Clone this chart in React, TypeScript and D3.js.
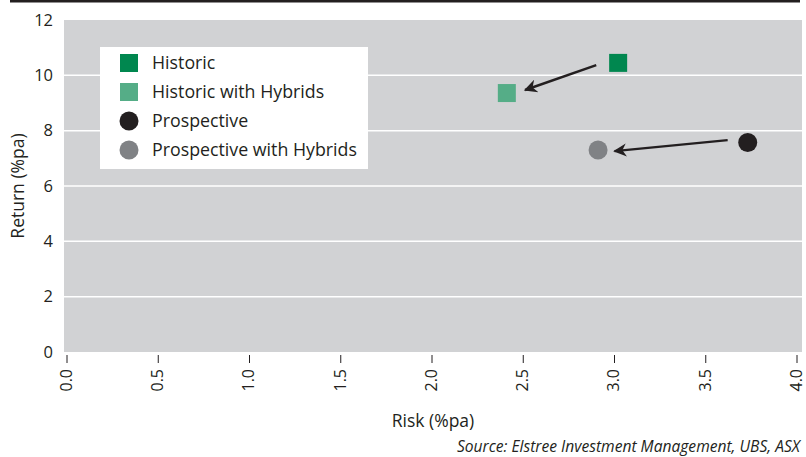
import React from 'react';
import * as d3 from 'd3';

// Series: [risk, return]
const seriesNames = ['Historic', 'Historic with Hybrids', 'Prospective', 'Prospective with Hybrids'];
const seriesShapes = ['square', 'square', 'circle', 'circle'];
const seriesColors = ['#00874f', '#55ad87', '#231f20', '#808285'];
const riskValues = [3.02, 2.41, 3.73, 2.91];
const returnValues = [10.45, 9.36, 7.57, 7.3];

// arrows: from -> to, in data units
const arrowFrom = [[2.9, 10.37], [3.62, 7.66]];
const arrowTo = [[2.51, 9.47], [3.0, 7.26]];

const xTicks = [0, 0.5, 1.0, 1.5, 2.0, 2.5, 3.0, 3.5, 4.0];
const yTicks = [0, 2, 4, 6, 8, 10, 12];

const W = 806;
const H = 457;
const font = '"Open Sans", "Noto Sans", sans-serif';
const ink = '#231f20';

const App: React.FC = () => {
    const x = d3.scaleLinear().domain([0, 4]).range([67, 797]);
    const y = d3.scaleLinear().domain([0, 12]).range([352, 20]);

    const plotLeft = 64;
    const plotRight = 802;

    return (
        <svg width={W} height={H} style={{ position: 'absolute', left: 0, top: 0, background: '#fff' }}>
            <defs>
                <marker id="arrowhead" viewBox="0 0 10 10" refX="9" refY="5" markerWidth="7.5" markerHeight="5.5"
                    markerUnits="strokeWidth" orient="auto">
                    <path d="M0,0 L10,5 L0,10 L3,5 Z" fill={ink} />
                </marker>
            </defs>

            {/* top rule */}
            <line x1={10} x2={800} y1={1.2} y2={1.2} stroke={ink} strokeWidth={2.4} />

            {/* plot background */}
            <rect x={plotLeft} y={y(12)} width={plotRight - plotLeft} height={y(0) - y(12)} fill="#d1d2d4" />

            {/* gridlines */}
            {yTicks.filter(t => t > 0 && t < 12).map(t => (
                <line key={t} x1={plotLeft} x2={plotRight} y1={y(t)} y2={y(t)} stroke="#fff" strokeWidth={1.5} />
            ))}

            {/* y tick labels */}
            {yTicks.map(t => (
                <text key={t} x={53} y={y(t)} dy="0.35em" textAnchor="end" fontFamily={font} fontSize={16.5} fill={ink}>
                    {t}
                </text>
            ))}

            {/* x ticks + labels */}
            {xTicks.map(t => (
                <g key={t} transform={`translate(${x(t)},0)`}>
                    <line x1={0} x2={0} y1={355} y2={363} stroke={ink} strokeWidth={1} />
                    <text transform="translate(0,369) rotate(-90)" dy="0.3em" textAnchor="end"
                        fontFamily={font} fontSize={16} fill={ink}>
                        {d3.format('.1f')(t)}
                    </text>
                </g>
            ))}

            {/* axis titles */}
            <text transform={`translate(18,${(y(0) + y(12)) / 2}) rotate(-90)`} dy="0.35em" textAnchor="middle"
                fontFamily={font} fontSize={17.5} fill={ink}>
                Return (%pa)
            </text>
            <text x={433} y={421} dy="0.35em" textAnchor="middle" fontFamily={font} fontSize={17.5} fill={ink}>
                Risk (%pa)
            </text>
            <text x={800} y={447} dy="0.35em" textAnchor="end" fontFamily={font} fontSize={15.6} fontStyle="italic" fill={ink}>
                Source: Elstree Investment Management, UBS, ASX
            </text>

            {/* arrows */}
            {arrowFrom.map((a, i) => (
                <line key={i} x1={x(a[0])} y1={y(a[1])} x2={x(arrowTo[i][0])} y2={y(arrowTo[i][1])}
                    stroke={ink} strokeWidth={2.4} markerEnd="url(#arrowhead)" />
            ))}

            {/* points */}
            {seriesNames.map((n, i) => seriesShapes[i] === 'square' ? (
                <rect key={n} x={x(riskValues[i]) - 9} y={y(returnValues[i]) - 9} width={18} height={18} fill={seriesColors[i]} />
            ) : (
                <circle key={n} cx={x(riskValues[i])} cy={y(returnValues[i])} r={9.5} fill={seriesColors[i]} />
            ))}

            {/* legend */}
            <rect x={100} y={47} width={268} height={122} fill="#fff" />
            {seriesNames.map((n, i) => {
                const cy = 63 + i * 29;
                return (
                    <g key={n}>
                        {seriesShapes[i] === 'square'
                            ? <rect x={120} y={cy - 9} width={18} height={18} fill={seriesColors[i]} />
                            : <circle cx={129} cy={cy} r={9.5} fill={seriesColors[i]} />}
                        <text x={152} y={cy} dy="0.35em" fontFamily={font} fontSize={17.8} fill={ink}>{n}</text>
                    </g>
                );
            })}
        </svg>
    );
};

export default App;
